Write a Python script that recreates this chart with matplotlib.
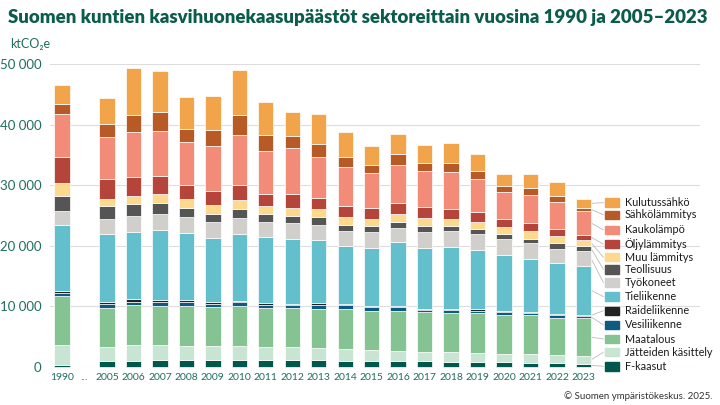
import matplotlib
matplotlib.use("Agg")
import matplotlib.pyplot as plt
import numpy as np

plt.rcParams["font.family"] = "Lato"

years = ["1990", "2005", "2006", "2007", "2008", "2009", "2010", "2011", "2012", "2013",
         "2014", "2015", "2016", "2017", "2018", "2019", "2020", "2021", "2022", "2023"]
series = ["F-kaasut", "Jätteiden käsittely", "Maatalous", "Vesiliikenne", "Raideliikenne",
          "Tieliikenne", "Työkoneet", "Teollisuus", "Muu lämmitys", "Öljylämmitys",
          "Kaukolämpö", "Sähkölämmitys", "Kulutussähkö"]
colors = ["#00574C", "#C8E5D3", "#86C393", "#0E5A80", "#222222", "#62BFCB", "#D0CFCB",
          "#555555", "#FDD98E", "#B5443A", "#F28C78", "#B85A25", "#F2A44B"]

# cumulative top of each series (ktCO2e)
cum_f = [300, 950, 1050, 1100, 1150, 1150, 1100, 1100, 1100, 1100, 1050, 1000, 1000, 950, 900, 850, 800, 700, 650, 550]
cum_jatteet = [3700, 3300, 3600, 3600, 3500, 3450, 3450, 3300, 3300, 3100, 2950, 2850, 2650, 2500, 2450, 2350, 2200, 2100, 1900, 1800]
cum_maatalous = [11700, 9800, 10200, 10000, 10100, 9900, 10050, 9800, 9700, 9600, 9600, 9300, 9300, 9000, 8950, 8850, 8650, 8550, 8150, 8050]
cum_vesi = [12200, 10400, 10800, 10700, 10700, 10400, 10700, 10300, 10200, 10200, 10200, 9850, 9850, 9450, 9450, 9200, 9050, 8950, 8550, 8450]
cum_raide = [12600, 10700, 11200, 11000, 11000, 10700, 10950, 10550, 10450, 10500, 10450, 10100, 10050, 9650, 9650, 9500, 9300, 9150, 8700, 8600]
cum_tie = [23500, 21900, 22300, 22600, 22100, 21300, 22000, 21400, 21100, 21000, 20000, 19600, 20600, 19700, 19800, 19300, 18400, 17900, 17100, 16700]
cum_tyokoneet = [25800, 24400, 25000, 25200, 24700, 23900, 24600, 23900, 23700, 23500, 22400, 22200, 23000, 22200, 22400, 22000, 21100, 20400, 19500, 19100]
cum_teollisuus = [28300, 26500, 26900, 27100, 26300, 25200, 26000, 25200, 24900, 24700, 23400, 23200, 24000, 23300, 23200, 22800, 21900, 21200, 20500, 20000]
cum_muu = [30300, 27800, 28200, 28500, 27800, 26700, 27500, 26500, 26300, 26100, 24700, 24500, 25300, 24600, 24400, 24000, 23100, 22400, 21600, 21000]
cum_oljy = [34600, 31000, 31400, 31500, 30000, 29000, 30000, 28500, 28500, 27900, 26600, 26200, 27000, 26400, 26100, 25600, 24500, 23800, 22800, 21800]
cum_kauko = [41700, 38000, 38700, 39000, 37100, 36500, 38300, 35700, 36200, 34600, 33000, 32000, 33400, 32400, 32100, 31100, 28900, 28400, 27300, 25700]
cum_sahko = [43400, 40100, 41600, 42000, 39300, 39100, 41600, 38300, 38100, 36800, 34700, 33400, 35100, 33700, 33600, 32400, 29800, 29600, 28300, 26300]
cum_kulutus = [46600, 44400, 49300, 48800, 44600, 44800, 49000, 43800, 42100, 41700, 38700, 36500, 38500, 36600, 37000, 35100, 31900, 31900, 30500, 27700]

cums = np.array([cum_f, cum_jatteet, cum_maatalous, cum_vesi, cum_raide, cum_tie, cum_tyokoneet,
                 cum_teollisuus, cum_muu, cum_oljy, cum_kauko, cum_sahko, cum_kulutus], dtype=float)

x = np.array([0.0] + [1.7 + i for i in range(19)])

fig = plt.figure(figsize=(7.2, 4.05), dpi=100)
ax = fig.add_axes([50/720, 1-367/405, 650/720, (367-64)/405])
w = 0.58
bottom = np.zeros(len(years))
for i, (name, col) in enumerate(zip(series, colors)):
    h = cums[i] - bottom
    ax.bar(x, h, w, bottom=bottom, color=col, edgecolor="white", linewidth=0.5, zorder=3, clip_on=False)
    bottom = cums[i].copy()

ax.set_xlim(-0.45, 24.1)
ax.set_ylim(0, 50000)
ax.set_yticks(range(0, 50001, 10000))
ax.set_yticklabels([f"{v:,}".replace(",", " ") for v in range(0, 50001, 10000)], color="#1F6E5E", fontsize=9.5)
ax.grid(axis="y", color="#DDDDDD", linewidth=0.8, zorder=0)
for s in ax.spines.values():
    s.set_visible(False)
ax.tick_params(axis="both", length=0)
ax.set_xticks(list(x) + [0.85])
ax.set_xticklabels(years + ["..."], fontsize=7.5, color="#1F6E5E")
ax.tick_params(axis="x", pad=4)
ax.tick_params(axis="y", pad=6)

# legend with leader lines
label_py = [366, 352, 339, 325, 311, 297, 283, 270, 258, 245, 231, 216, 204]
prev = 0
for i, (name, col) in enumerate(zip(series, colors)):
    yl = (366.7 - label_py[i]) / 60 * 10000
    mid = (prev + cums[i][-1]) / 2
    prev = cums[i][-1]
    ax.plot([x[-1] + w/2, 20.45], [mid, yl], color="#BBBBBB", lw=0.6, clip_on=False, zorder=2)
    ax.add_patch(plt.Rectangle((20.5, yl - 700), 0.55, 1400, color=col, clip_on=False, zorder=3))
    ax.text(21.25, yl, name, fontsize=7.8, va="center", ha="left", color="#1a1a1a")

fig.text(8/720, 1-17/405, "Suomen kuntien kasvihuonekaasupäästöt sektoreittain vuosina 1990 ja 2005–2023",
         fontsize=13.4, fontweight="heavy", color="#0B5C4C", va="center")
fig.text(10/720, 1-44/405, "ktCO₂e", fontsize=9, color="#1F6E5E", va="center")
fig.text(712/720, 1-396/405, "© Suomen ympäristökeskus. 2025.", fontsize=7, color="#333333", ha="right", va="center")

fig.savefig("out.png", dpi=100)
